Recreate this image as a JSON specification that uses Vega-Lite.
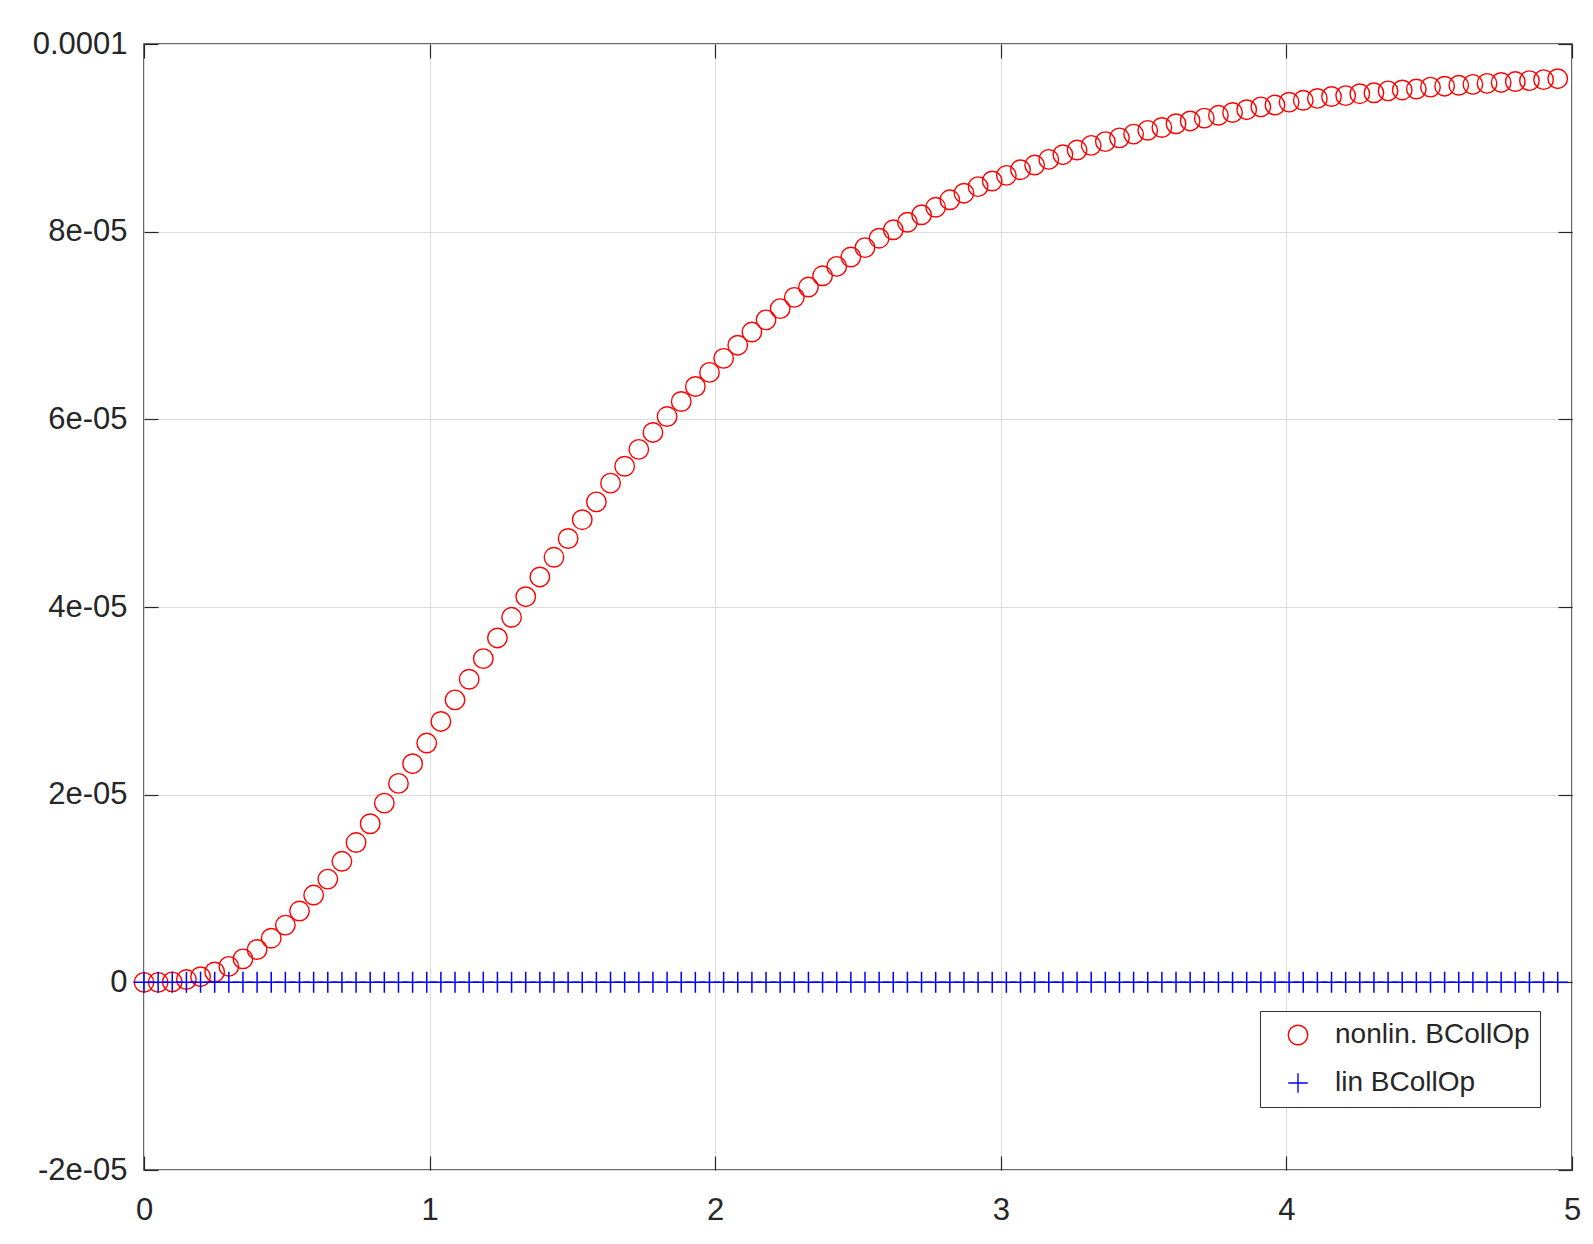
{
  "$schema": "https://vega.github.io/schema/vega-lite/v6.json",
  "width": 1428,
  "height": 1126,
  "autosize": {"type": "none"},
  "padding": {"left": 144, "top": 44, "right": 21, "bottom": 74},
  "background": "white",
  "config": {
    "view": {"stroke": "#3a3a3a", "strokeWidth": 1.5},
    "font": "Liberation Sans"
  },
  "datasets": {
    "nonlin": [
      {"t":0,"v":0},{"t":0.0495,"v":0},{"t":0.099,"v":0.05e-6},{"t":0.1485,"v":0.3e-6},{"t":0.198,"v":0.6e-6},
      {"t":0.2475,"v":1.1e-6},{"t":0.297,"v":1.7e-6},{"t":0.3465,"v":2.5e-6},{"t":0.396,"v":3.5e-6},{"t":0.4455,"v":4.7e-6},
      {"t":0.495,"v":6.1e-6},{"t":0.5445,"v":7.6e-6},{"t":0.594,"v":9.3e-6},{"t":0.6435,"v":11.0e-6},{"t":0.693,"v":12.9e-6},
      {"t":0.7425,"v":14.9e-6},{"t":0.792,"v":16.9e-6},{"t":0.8415,"v":19.1e-6},{"t":0.891,"v":21.2e-6},{"t":0.9405,"v":23.3e-6},
      {"t":0.99,"v":25.5e-6},{"t":1.0395,"v":27.8e-6},{"t":1.089,"v":30.1e-6},{"t":1.1385,"v":32.3e-6},{"t":1.188,"v":34.5e-6},
      {"t":1.2375,"v":36.7e-6},{"t":1.287,"v":38.9e-6},{"t":1.3365,"v":41.1e-6},{"t":1.386,"v":43.2e-6},{"t":1.4355,"v":45.3e-6},
      {"t":1.485,"v":47.3e-6},{"t":1.5345,"v":49.3e-6},{"t":1.584,"v":51.2e-6},{"t":1.6335,"v":53.2e-6},{"t":1.683,"v":55.0e-6},
      {"t":1.7325,"v":56.8e-6},{"t":1.782,"v":58.6e-6},{"t":1.8315,"v":60.3e-6},{"t":1.881,"v":61.9e-6},{"t":1.9305,"v":63.5e-6},
      {"t":1.98,"v":65.0e-6},{"t":2.0295,"v":66.5e-6},{"t":2.079,"v":67.9e-6},{"t":2.1285,"v":69.3e-6},{"t":2.178,"v":70.6e-6},
      {"t":2.2275,"v":71.8e-6},{"t":2.277,"v":73.0e-6},{"t":2.3265,"v":74.1e-6},{"t":2.376,"v":75.3e-6},{"t":2.4255,"v":76.3e-6},
      {"t":2.475,"v":77.3e-6},{"t":2.5245,"v":78.3e-6},{"t":2.574,"v":79.3e-6},{"t":2.6235,"v":80.2e-6},{"t":2.673,"v":81.0e-6},
      {"t":2.7225,"v":81.8e-6},{"t":2.772,"v":82.6e-6},{"t":2.8215,"v":83.4e-6},{"t":2.871,"v":84.1e-6},{"t":2.9205,"v":84.8e-6},
      {"t":2.97,"v":85.4e-6},{"t":3.0195,"v":86.0e-6},{"t":3.069,"v":86.6e-6},{"t":3.1185,"v":87.1e-6},{"t":3.168,"v":87.7e-6},
      {"t":3.2175,"v":88.2e-6},{"t":3.267,"v":88.7e-6},{"t":3.3165,"v":89.2e-6},{"t":3.366,"v":89.6e-6},{"t":3.4155,"v":90.0e-6},
      {"t":3.465,"v":90.4e-6},{"t":3.5145,"v":90.8e-6},{"t":3.564,"v":91.1e-6},{"t":3.6135,"v":91.5e-6},{"t":3.663,"v":91.8e-6},
      {"t":3.7125,"v":92.1e-6},{"t":3.762,"v":92.4e-6},{"t":3.8115,"v":92.7e-6},{"t":3.861,"v":93.0e-6},{"t":3.9105,"v":93.3e-6},
      {"t":3.96,"v":93.5e-6},{"t":4.0095,"v":93.8e-6},{"t":4.059,"v":94.0e-6},{"t":4.1085,"v":94.2e-6},{"t":4.158,"v":94.4e-6},
      {"t":4.2075,"v":94.5e-6},{"t":4.257,"v":94.7e-6},{"t":4.3065,"v":94.8e-6},{"t":4.356,"v":95.0e-6},{"t":4.4055,"v":95.1e-6},
      {"t":4.455,"v":95.2e-6},{"t":4.5045,"v":95.4e-6},{"t":4.554,"v":95.5e-6},{"t":4.6035,"v":95.6e-6},{"t":4.653,"v":95.7e-6},
      {"t":4.7025,"v":95.8e-6},{"t":4.752,"v":95.9e-6},{"t":4.8015,"v":96.0e-6},{"t":4.851,"v":96.1e-6},{"t":4.9005,"v":96.2e-6},
      {"t":4.95,"v":96.3e-6}
    ],
    "lin": [
      {"t":0,"v":0},{"t":0.0495,"v":0},{"t":0.099,"v":0},{"t":0.1485,"v":0},{"t":0.198,"v":0},
      {"t":0.2475,"v":0},{"t":0.297,"v":0},{"t":0.3465,"v":0},{"t":0.396,"v":0},{"t":0.4455,"v":0},
      {"t":0.495,"v":0},{"t":0.5445,"v":0},{"t":0.594,"v":0},{"t":0.6435,"v":0},{"t":0.693,"v":0},
      {"t":0.7425,"v":0},{"t":0.792,"v":0},{"t":0.8415,"v":0},{"t":0.891,"v":0},{"t":0.9405,"v":0},
      {"t":0.99,"v":0},{"t":1.0395,"v":0},{"t":1.089,"v":0},{"t":1.1385,"v":0},{"t":1.188,"v":0},
      {"t":1.2375,"v":0},{"t":1.287,"v":0},{"t":1.3365,"v":0},{"t":1.386,"v":0},{"t":1.4355,"v":0},
      {"t":1.485,"v":0},{"t":1.5345,"v":0},{"t":1.584,"v":0},{"t":1.6335,"v":0},{"t":1.683,"v":0},
      {"t":1.7325,"v":0},{"t":1.782,"v":0},{"t":1.8315,"v":0},{"t":1.881,"v":0},{"t":1.9305,"v":0},
      {"t":1.98,"v":0},{"t":2.0295,"v":0},{"t":2.079,"v":0},{"t":2.1285,"v":0},{"t":2.178,"v":0},
      {"t":2.2275,"v":0},{"t":2.277,"v":0},{"t":2.3265,"v":0},{"t":2.376,"v":0},{"t":2.4255,"v":0},
      {"t":2.475,"v":0},{"t":2.5245,"v":0},{"t":2.574,"v":0},{"t":2.6235,"v":0},{"t":2.673,"v":0},
      {"t":2.7225,"v":0},{"t":2.772,"v":0},{"t":2.8215,"v":0},{"t":2.871,"v":0},{"t":2.9205,"v":0},
      {"t":2.97,"v":0},{"t":3.0195,"v":0},{"t":3.069,"v":0},{"t":3.1185,"v":0},{"t":3.168,"v":0},
      {"t":3.2175,"v":0},{"t":3.267,"v":0},{"t":3.3165,"v":0},{"t":3.366,"v":0},{"t":3.4155,"v":0},
      {"t":3.465,"v":0},{"t":3.5145,"v":0},{"t":3.564,"v":0},{"t":3.6135,"v":0},{"t":3.663,"v":0},
      {"t":3.7125,"v":0},{"t":3.762,"v":0},{"t":3.8115,"v":0},{"t":3.861,"v":0},{"t":3.9105,"v":0},
      {"t":3.96,"v":0},{"t":4.0095,"v":0},{"t":4.059,"v":0},{"t":4.1085,"v":0},{"t":4.158,"v":0},
      {"t":4.2075,"v":0},{"t":4.257,"v":0},{"t":4.3065,"v":0},{"t":4.356,"v":0},{"t":4.4055,"v":0},
      {"t":4.455,"v":0},{"t":4.5045,"v":0},{"t":4.554,"v":0},{"t":4.6035,"v":0},{"t":4.653,"v":0},
      {"t":4.7025,"v":0},{"t":4.752,"v":0},{"t":4.8015,"v":0},{"t":4.851,"v":0},{"t":4.9005,"v":0},
      {"t":4.95,"v":0}
    ]
  },
  "layer": [
    {
      "data": {"name": "nonlin"},
      "mark": {"type": "point", "filled": false, "strokeWidth": 1.4, "opacity": 1, "size": 380},
      "encoding": {
        "x": {"field": "t", "type": "quantitative",
          "scale": {"domain": [0, 5], "nice": false, "zero": false},
          "axis": {"orient": "bottom", "values": [0,1,2,3,4,5], "format": ".0f", "title": null,
            "grid": true, "gridColor": "#dcdcdc", "gridWidth": 1, "domain": false,
            "tickSize": -14, "tickColor": "#262626", "tickWidth": 1.2,
            "labelFontSize": 31, "labelColor": "#262626", "labelPadding": 39, "labelFlush": false}},
        "y": {"field": "v", "type": "quantitative",
          "scale": {"domain": [-0.00002, 0.0001], "nice": false, "zero": false},
          "axis": {"orient": "left", "values": [-0.00002, 0, 0.00002, 0.00004, 0.00006, 0.00008, 0.0001], "title": null,
            "labelExpr": "datum.value == 0 ? '0' : (datum.value > 0.00009 ? '0.0001' : (datum.value < 0 ? '-' : '') + format(abs(datum.value) * 100000, '.0f') + 'e-05')",
            "grid": true, "gridColor": "#dcdcdc", "gridWidth": 1, "domain": false,
            "tickSize": -14, "tickColor": "#262626", "tickWidth": 1.2,
            "labelFontSize": 31, "labelColor": "#262626", "labelPadding": 31, "labelFlush": false}},
        "color": {"datum": "nonlin. BCollOp", "type": "nominal",
          "scale": {"domain": ["nonlin. BCollOp", "lin BCollOp"], "range": ["#ff0000", "#0000ff"]},
          "legend": {"orient": "none", "legendX": 1116, "legendY": 967, "title": null,
            "strokeColor": "#333333", "fillColor": "white", "padding": 10,
            "symbolOffset": 14, "labelOffset": 23, "labelFontSize": 28, "labelColor": "#262626",
            "symbolSize": 380, "symbolStrokeWidth": 1.4, "rowPadding": 20, "labelLimit": 400}},
        "shape": {"datum": "nonlin. BCollOp", "type": "nominal",
          "scale": {"domain": ["nonlin. BCollOp", "lin BCollOp"], "range": ["circle", "M-1,0H1M0,-1V1"]}}
      }
    },
    {
      "data": {"name": "lin"},
      "mark": {"type": "point", "filled": false, "strokeWidth": 1.5, "opacity": 1, "size": 440},
      "encoding": {
        "x": {"field": "t", "type": "quantitative", "axis": null},
        "y": {"field": "v", "type": "quantitative", "axis": null},
        "color": {"datum": "lin BCollOp", "type": "nominal"},
        "shape": {"datum": "lin BCollOp", "type": "nominal"}
      }
    },
    {
      "data": {"name": "lin"},
      "mark": {"type": "point", "opacity": 0},
      "encoding": {
        "x": {"field": "t", "type": "quantitative",
          "axis": {"orient": "top", "values": [0,1,2,3,4,5], "labels": false, "title": null, "grid": false,
            "domain": false, "tickSize": -14, "tickColor": "#262626", "tickWidth": 1.2}},
        "y": {"field": "v", "type": "quantitative",
          "axis": {"orient": "right", "values": [-0.00002, 0, 0.00002, 0.00004, 0.00006, 0.00008, 0.0001], "labels": false, "title": null, "grid": false,
            "domain": false, "tickSize": -14, "tickColor": "#262626", "tickWidth": 1.2}}
      }
    }
  ],
  "resolve": {"axis": {"x": "independent", "y": "independent"}}
}
